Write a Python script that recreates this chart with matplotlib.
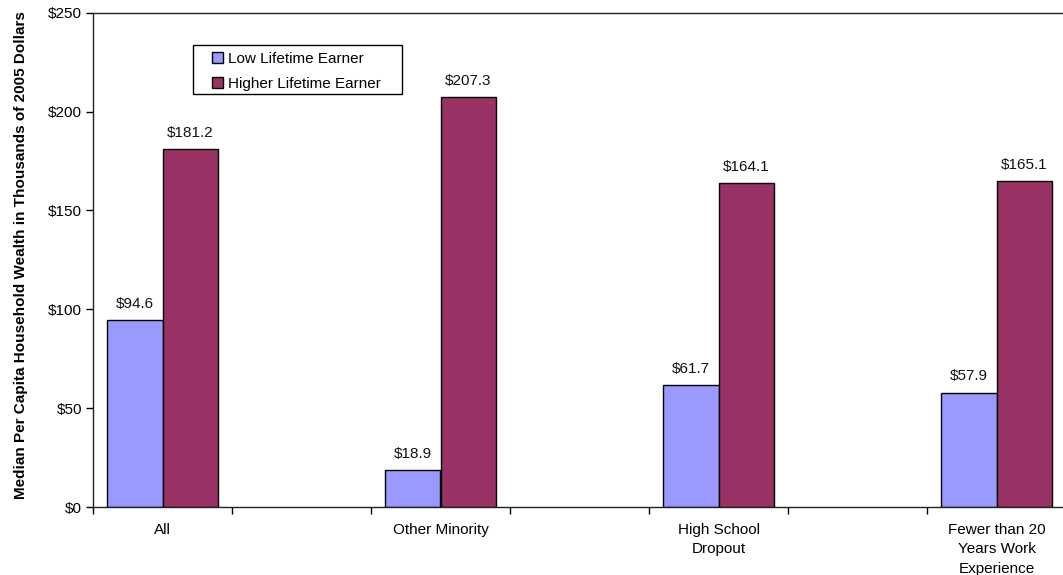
import numpy as np
import matplotlib.pyplot as plt
from matplotlib.patches import Rectangle

categories = ["All", "Other Minority", "High School\nDropout",
              "Fewer than 20\nYears Work\nExperience"]
low_earner = [94.6, 18.9, 61.7, 57.9]
high_earner = [181.2, 207.3, 164.1, 165.1]
series_names = ["Low Lifetime Earner", "Higher Lifetime Earner"]
yticks = [0, 50, 100, 150, 200, 250]

plt.rcParams['font.family'] = ['Liberation Sans', 'DejaVu Sans']
plt.rcParams['font.size'] = 11

fig = plt.figure(figsize=(10.63, 5.75), dpi=100)
# plot area runs slightly past the right edge, like the original
ax = fig.add_axes([93 / 1063, 68 / 575, 973 / 1063, 494.3 / 575])

# every category sits in a slot with an empty slot between
x = np.arange(len(categories)) * 2
w = 0.4
b1 = ax.bar(x - w / 2, low_earner, w, color='#9999FF', edgecolor='black',
            linewidth=1, label=series_names[0])
b2 = ax.bar(x + w / 2, high_earner, w, color='#993366', edgecolor='black',
            linewidth=1, label=series_names[1])

for b, vals in [(b1, low_earner), (b2, high_earner)]:
    ax.bar_label(b, labels=[f"${v:.1f}" for v in vals], padding=6.5,
                 color='#111111')

ax.set_xlim(-0.5, 6.5)
ax.set_ylim(0, 250)

ax.set_xticks(np.arange(-0.5, 7, 1))
ax.set_xticklabels([])
ax.set_xticks(x, categories, minor=True)
ax.tick_params(axis='x', which='major', length=5, width=1, direction='out')
ax.tick_params(axis='x', which='minor', length=0, pad=11.5)
for t in ax.get_xticklabels(minor=True):
    t.set_linespacing(1.5)

ax.set_yticks(yticks, [f"${v}" for v in yticks])
ax.tick_params(axis='y', length=5, width=1, pad=3)

for s in ax.spines.values():
    s.set_linewidth(1)
    s.set_color('#222222')

ax.set_ylabel("Median Per Capita Household Wealth in Thousands of 2005 Dollars",
              fontweight='bold')
ax.yaxis.set_label_coords(-0.0668, 0.51)

# legend frame drawn by hand so the padding matches
ax.add_patch(Rectangle((0.1028, 0.836), 0.2148, 0.0992, transform=ax.transAxes,
                       facecolor='white', edgecolor='black', linewidth=1,
                       zorder=4))
leg = ax.legend(loc='upper left', bbox_to_anchor=(0.1223, 0.921),
                frameon=False, borderpad=0, borderaxespad=0,
                handlelength=0.75, handleheight=0.75, handletextpad=0.28,
                labelspacing=0.71)
leg.set_zorder(5)

fig.savefig("out.png", dpi=100)
